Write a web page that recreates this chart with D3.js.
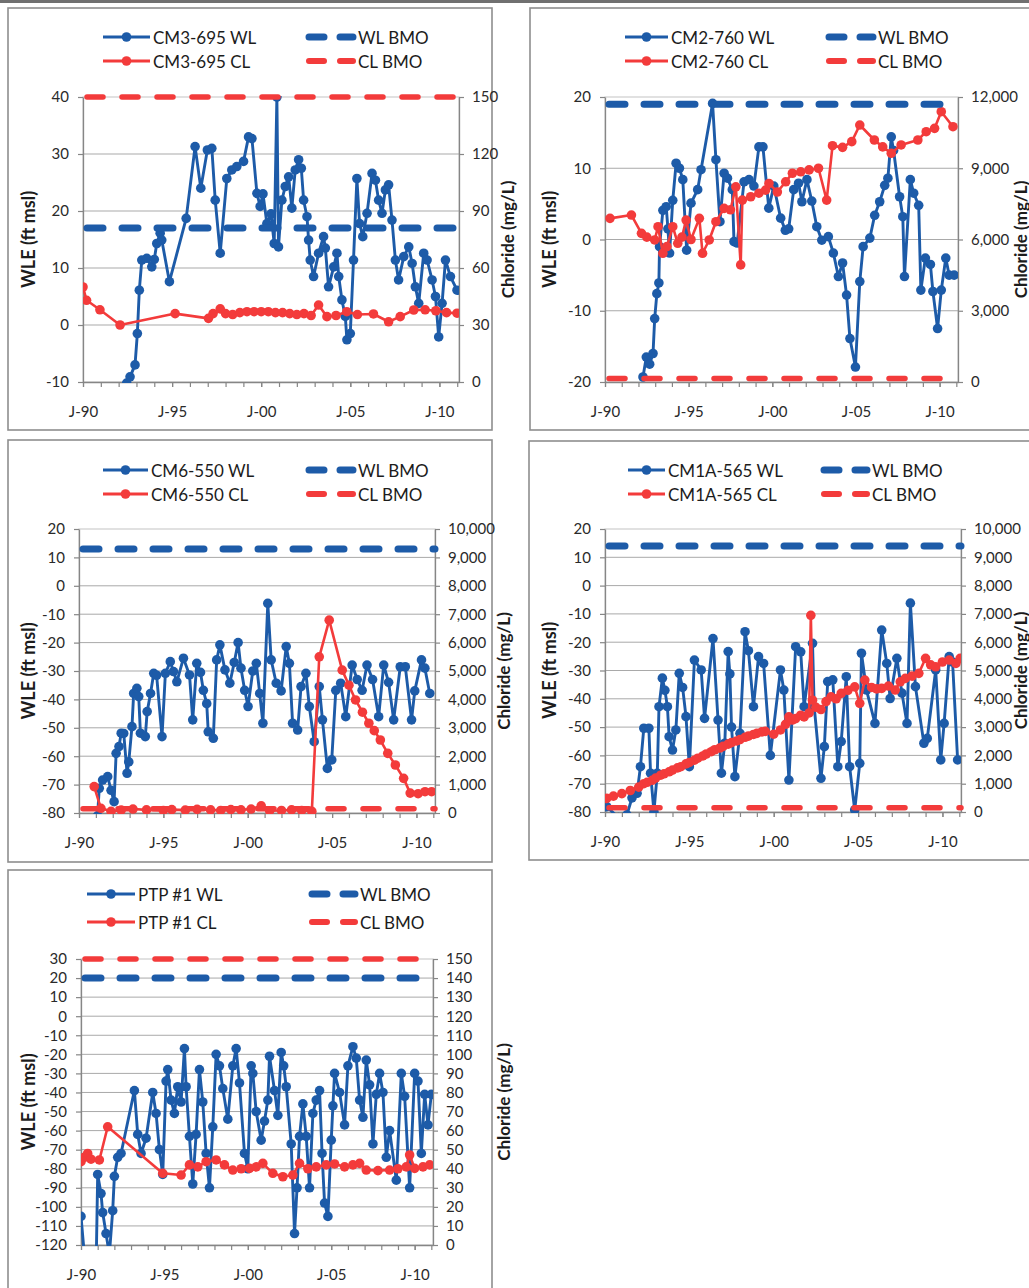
<!DOCTYPE html>
<html>
<head>
<meta charset="utf-8">
<script src="https://cdn.jsdelivr.net/npm/d3@7"></script>
<style>
  html, body { margin: 0; padding: 0; background: #fff; }
  svg { display: block; }
  text { font-family: Lato, "Open Sans", sans-serif; }
</style>
</head>
<body>
<svg id="chart" width="1029" height="1288"></svg>
<script>
// ---- Shared axis data ----
const xDomain = [1990, 2011.1];
const xTickYears = [1990, 1995, 2000, 2005, 2010];
const xTickLabels = ["J-90", "J-95", "J-00", "J-05", "J-10"];
const xMinorYears = d3.range(1990, 2012, 1);

// ---- Wells ----
const wellNames = ["CM3-695", "CM2-760", "CM6-550", "CM1A-565", "PTP #1"];
const wlBmo = [17, 19, 13, 14, 20];
const clBmo = [150, 150, 150, 150, 150];
const wleDomains = [[-10, 40], [-20, 20], [-80, 20], [-80, 20], [-120, 30]];
const chlorideDomains = [[0, 150], [0, 12000], [0, 10000], [0, 10000], [0, 150]];
const chlorideSteps = [30, 3000, 1000, 1000, 10];

// ---- Water level (ft msl) and chloride (mg/L) series: [decimal year, value] ----
const cm3_695_wl = [[1992.45,-10.2],[1992.64,-9.1],[1992.92,-7.0],[1993.05,-1.5],[1993.16,6.1],[1993.3,11.4],[1993.58,11.7],[1993.86,10.2],[1994.0,11.5],[1994.14,14.3],[1994.33,16.1],[1994.42,14.9],[1994.85,7.6],[1995.79,18.7],[1996.29,31.3],[1996.61,24.0],[1996.98,30.7],[1997.23,31.0],[1997.42,21.9],[1997.7,12.6],[1998.07,25.7],[1998.35,27.2],[1998.63,27.8],[1999.01,28.7],[1999.29,33.0],[1999.48,32.7],[1999.76,23.1],[1999.94,20.8],[2000.1,23.0],[2000.32,17.8],[2000.55,19.5],[2000.73,14.3],[2000.88,40],[2000.97,13.7],[2001.16,21.9],[2001.35,24.3],[2001.54,26.0],[2001.72,20.5],[2001.91,27.2],[2002.1,29.0],[2002.25,27.5],[2002.38,21.9],[2002.57,19.0],[2002.66,14.9],[2002.75,11.4],[2002.94,8.5],[2003.22,12.6],[2003.5,15.5],[2003.6,13.5],[2003.78,6.7],[2004.07,10.2],[2004.25,12.6],[2004.35,8.5],[2004.53,4.4],[2004.72,1.5],[2004.81,-2.6],[2005.0,-1.5],[2005.18,11.4],[2005.37,25.7],[2005.52,17.8],[2005.7,15.5],[2005.94,19.6],[2006.22,26.6],[2006.41,25.4],[2006.59,21.9],[2006.78,19.6],[2006.97,23.7],[2007.15,24.6],[2007.34,18.4],[2007.53,11.4],[2007.71,7.9],[2008.0,12.0],[2008.28,13.7],[2008.47,10.8],[2008.65,6.7],[2008.84,3.8],[2009.12,12.6],[2009.31,11.4],[2009.59,7.9],[2009.78,5.0],[2009.96,-2.1],[2010.15,3.8],[2010.34,11.4],[2010.62,8.5],[2010.99,6.1]];
const cm3_695_cl = [[1990.0,50],[1990.2,43],[1990.95,38],[1992.08,30],[1995.17,36],[1997.04,33.5],[1997.3,36],[1997.7,38.5],[1998.0,36],[1998.4,35.5],[1998.8,36.5],[1999.2,37],[1999.6,37],[2000.0,37],[2000.4,37],[2000.8,36.5],[2001.2,36.5],[2001.6,36],[2002.0,35.5],[2002.4,36],[2002.8,35],[2003.22,40.5],[2003.69,34.4],[2004.2,35],[2004.8,37],[2005.4,35.5],[2006.3,35.8],[2007.15,31.7],[2007.8,34.4],[2008.56,37.9],[2009.2,38],[2009.8,37.5],[2010.4,36.5],[2010.99,36.2]];

const cm2_760_wl = [[1992.27,-19.3],[1992.47,-16.5],[1992.67,-17.5],[1992.87,-16.0],[1992.97,-11.1],[1993.1,-7.6],[1993.22,-6.1],[1993.26,-1.0],[1993.46,4.1],[1993.66,4.6],[1993.76,1.5],[1993.86,-1.9],[1994.05,5.5],[1994.25,10.7],[1994.45,10.0],[1994.65,8.4],[1994.88,-1.5],[1995.14,5.1],[1995.54,7.0],[1995.74,9.8],[1996.43,19.1],[1996.63,11.2],[1996.87,2.5],[1997.12,9.3],[1997.32,8.6],[1997.61,7.0],[1997.71,-0.3],[1997.9,-0.5],[1998.31,8.1],[1998.61,8.4],[1998.9,7.5],[1999.2,13.0],[1999.44,13.0],[1999.79,4.4],[2000.09,7.5],[2000.5,3.0],[2000.78,1.3],[2000.98,1.5],[2001.28,7.0],[2001.57,7.9],[2001.77,5.3],[2002.07,8.4],[2002.36,5.4],[2002.66,1.8],[2002.96,-0.1],[2003.35,0.4],[2003.65,-1.9],[2003.95,-5.2],[2004.2,-3.3],[2004.44,-7.8],[2004.64,-13.9],[2004.97,-17.9],[2005.23,-5.9],[2005.43,-1.0],[2005.83,0.2],[2006.12,3.4],[2006.42,5.3],[2006.72,7.6],[2006.91,8.6],[2007.11,14.4],[2007.25,12.5],[2007.61,6.0],[2007.8,3.2],[2007.9,-5.2],[2008.25,8.4],[2008.45,6.5],[2008.75,4.8],[2008.88,-7.1],[2009.15,-2.6],[2009.45,-3.5],[2009.6,-7.3],[2009.88,-12.5],[2010.1,-7.1],[2010.37,-2.6],[2010.57,-5.0],[2010.87,-5.0]];
const cm2_760_cl = [[1990.3,6890],[1991.58,7030],[1992.18,6260],[1992.5,6100],[1992.97,5980],[1993.17,6540],[1993.46,5420],[1993.7,5700],[1994.05,6540],[1994.35,5840],[1994.6,6100],[1994.85,6820],[1995.14,6000],[1995.64,6890],[1995.83,5420],[1996.23,5980],[1996.63,6750],[1997.12,7310],[1997.5,7250],[1997.82,8220],[1998.11,4930],[1998.21,7660],[1998.71,7800],[1999.2,7950],[1999.6,8080],[1999.8,8360],[2000.3,8000],[2000.8,8430],[2001.2,8790],[2001.7,8850],[2002.2,8930],[2002.76,9000],[2003.25,7660],[2003.6,9950],[2004.2,9880],[2004.75,10120],[2005.23,10820],[2006.1,10190],[2006.6,9900],[2007.11,9630],[2007.7,9980],[2008.7,10190],[2009.2,10540],[2009.7,10680],[2010.1,11380],[2010.8,10750]];

const cm6_550_wl = [[1991.1,-81],[1991.2,-71.3],[1991.4,-68.4],[1991.7,-67.2],[1991.9,-72],[1992.08,-76.0],[1992.2,-59.0],[1992.37,-56.6],[1992.5,-51.9],[1992.65,-52],[1992.85,-66.0],[1992.95,-62],[1993.14,-49.6],[1993.24,-37.9],[1993.43,-36.1],[1993.54,-39],[1993.64,-51.9],[1993.93,-53.1],[1994.04,-44.3],[1994.24,-37.9],[1994.43,-30.8],[1994.6,-31.5],[1994.92,-53.1],[1995.12,-30.8],[1995.41,-26.7],[1995.6,-30.2],[1995.8,-33.8],[1996.19,-25.5],[1996.55,-31.4],[1996.74,-47.2],[1996.98,-27.3],[1997.2,-30.5],[1997.37,-36.8],[1997.57,-41.5],[1997.66,-51.4],[1997.96,-53.7],[1998.16,-26.1],[1998.35,-20.8],[1998.65,-29.6],[1998.94,-34.3],[1999.2,-27],[1999.43,-20.0],[1999.6,-29],[1999.82,-36.8],[2000.02,-42.5],[2000.3,-30],[2000.51,-27.3],[2000.71,-37.9],[2000.9,-48.4],[2001.19,-6.2],[2001.39,-26.1],[2001.69,-34.3],[2001.98,-37],[2002.28,-21.4],[2002.47,-27.3],[2002.66,-48.4],[2002.96,-50.8],[2003.16,-35.5],[2003.45,-30.8],[2003.65,-42.5],[2003.94,-54.9],[2004.24,-35.5],[2004.43,-47.2],[2004.72,-64.3],[2004.98,-61.3],[2005.22,-36.8],[2005.51,-34.3],[2005.81,-46.1],[2006.19,-27.9],[2006.49,-33],[2006.78,-36.8],[2007.07,-27.9],[2007.4,-33],[2007.76,-46.1],[2008.06,-27.9],[2008.35,-34],[2008.65,-47.2],[2009.04,-28.5],[2009.34,-28.5],[2009.71,-47.2],[2009.9,-37],[2010.3,-26.1],[2010.5,-29],[2010.79,-37.9]];
const cm6_550_cl = [[1990.9,930],[1991.3,165],[1991.9,60],[1992.5,100],[1993.2,140],[1994.0,110],[1995.0,90],[1995.5,120],[1996.3,100],[1997.0,130],[1997.8,110],[1998.4,90],[1999.0,120],[1999.6,110],[2000.2,140],[2000.8,250],[2001.3,80],[2002.0,90],[2002.6,110],[2003.2,90],[2003.8,60],[2004.24,5500],[2004.83,6790],[2005.6,5030],[2006.0,4500],[2006.39,3980],[2006.8,3550],[2007.18,3160],[2007.5,2900],[2007.86,2570],[2008.3,2100],[2008.75,1690],[2009.24,1220],[2009.63,700],[2010.1,680],[2010.51,750],[2010.9,750]];

const cm1a_565_wl = [[1990.1,-78.1],[1990.8,-82],[1991.3,-81],[1991.6,-75],[1991.9,-73.4],[1992.1,-64],[1992.3,-50.4],[1992.6,-50.4],[1992.7,-66.3],[1992.9,-79.9],[1993.1,-66.3],[1993.2,-42.8],[1993.4,-32.7],[1993.55,-37],[1993.7,-42.8],[1993.8,-53.4],[1994.0,-58.1],[1994.2,-51.0],[1994.4,-31],[1994.6,-36],[1994.8,-46.3],[1995.0,-64],[1995.3,-26.3],[1995.7,-29.8],[1995.9,-46.9],[1996.4,-18.7],[1996.7,-47.5],[1996.9,-66.3],[1997.1,-55.7],[1997.3,-23.3],[1997.4,-31.2],[1997.5,-50],[1997.7,-67.5],[1998.0,-52.2],[1998.3,-16.3],[1998.5,-23],[1998.8,-42.8],[1999.1,-25.1],[1999.4,-27.5],[1999.8,-60],[2000.4,-29.8],[2000.6,-36.9],[2000.9,-68.7],[2001.3,-21.6],[2001.6,-23.4],[2001.8,-42.8],[2002.3,-20.4],[2002.4,-42.8],[2002.8,-68.1],[2003.0,-56.9],[2003.2,-33.9],[2003.5,-33.3],[2003.8,-64],[2004.0,-55.1],[2004.3,-32.2],[2004.5,-64],[2004.8,-79.3],[2005.1,-62.8],[2005.2,-23.9],[2005.5,-36.9],[2006.0,-48.7],[2006.4,-15.7],[2006.7,-27.5],[2006.9,-39.9],[2007.3,-25.7],[2007.6,-38],[2007.9,-48.7],[2008.1,-6.2],[2008.4,-35.7],[2008.9,-55.7],[2009.1,-54],[2009.6,-29.8],[2009.9,-61.6],[2010.1,-48.7],[2010.4,-25.1],[2010.6,-27],[2010.9,-61.6]];
const cm1a_565_cl = [[1990.1,480],[1990.5,560],[1991.0,650],[1991.5,760],[1992.0,880],[1992.3,1000],[1992.5,1050],[1992.8,1120],[1993.0,1200],[1993.3,1300],[1993.5,1350],[1993.8,1420],[1994.0,1480],[1994.3,1560],[1994.5,1600],[1994.8,1700],[1995.0,1750],[1995.3,1830],[1995.5,1900],[1995.8,1980],[1996.0,2050],[1996.3,2130],[1996.5,2200],[1996.8,2260],[1997.0,2320],[1997.3,2400],[1997.5,2450],[1997.8,2510],[1998.0,2560],[1998.3,2640],[1998.5,2680],[1998.8,2740],[1999.0,2780],[1999.3,2830],[1999.5,2850],[2000.0,2750],[2000.4,2900],[2000.7,3100],[2000.9,3360],[2001.1,3250],[2001.3,3300],[2001.6,3420],[2001.8,3360],[2002.1,3500],[2002.2,6950],[2002.3,3950],[2002.5,3700],[2002.8,3620],[2003.1,3900],[2003.4,4070],[2003.7,4000],[2004.0,4190],[2004.4,4300],[2004.8,4420],[2005.1,3840],[2005.4,4660],[2005.8,4400],[2006.1,4350],[2006.4,4370],[2006.8,4450],[2007.2,4310],[2007.5,4600],[2007.8,4720],[2008.2,4800],[2008.6,4900],[2009.0,5430],[2009.3,5200],[2009.6,5130],[2010.0,5300],[2010.4,5370],[2010.8,5250],[2011.05,5430]];

const ptp1_wl = [[1990.0,-105],[1990.3,-135],[1990.9,-135],[1991.0,-83],[1991.2,-93],[1991.3,-103],[1991.5,-114],[1991.7,-125],[1991.9,-102],[1992.0,-84],[1992.2,-74],[1992.4,-72],[1993.2,-39],[1993.4,-62],[1993.6,-72],[1993.9,-64],[1994.3,-40],[1994.5,-51],[1994.7,-70],[1994.9,-83],[1995.1,-34],[1995.2,-28],[1995.4,-44],[1995.6,-51],[1995.8,-37],[1996.0,-45],[1996.2,-17],[1996.3,-37],[1996.5,-63],[1996.7,-88],[1996.9,-62],[1997.1,-28],[1997.3,-45],[1997.5,-72],[1997.7,-90],[1997.9,-58],[1998.1,-20],[1998.3,-26],[1998.5,-38],[1998.8,-54],[1999.1,-26],[1999.3,-17],[1999.5,-35],[1999.8,-72],[2000.0,-80],[2000.2,-26],[2000.3,-30],[2000.5,-50],[2000.8,-65],[2001.0,-55],[2001.2,-44],[2001.3,-21],[2001.6,-39],[2001.8,-52],[2002.0,-19],[2002.15,-26],[2002.3,-37],[2002.6,-67],[2002.8,-114],[2002.95,-90],[2003.1,-63],[2003.3,-46],[2003.5,-63],[2003.7,-90],[2003.9,-51],[2004.1,-44],[2004.3,-39],[2004.45,-72],[2004.6,-98],[2004.8,-105],[2005.0,-65],[2005.1,-47],[2005.2,-30],[2005.5,-40],[2005.8,-57],[2006.0,-26],[2006.3,-16],[2006.5,-22],[2006.7,-44],[2006.9,-53],[2007.1,-23],[2007.3,-36],[2007.5,-67],[2007.7,-41],[2007.9,-30],[2008.1,-40],[2008.3,-74],[2008.5,-60],[2008.9,-86],[2009.2,-30],[2009.4,-42],[2009.7,-90],[2010.0,-30],[2010.2,-34],[2010.4,-72],[2010.6,-41],[2010.8,-57],[2011.0,-41]];
const ptp1_cl = [[1990.0,43.7],[1990.2,46],[1990.4,48],[1990.6,45],[1991.1,44.6],[1991.6,62],[1994.9,37.6],[1996.0,36.7],[1996.5,42],[1997.0,41],[1997.5,43.7],[1998.1,44.6],[1998.6,42],[1999.1,39.3],[1999.6,40],[2000.1,40.2],[2000.5,41],[2000.9,42.8],[2001.5,37.6],[2002.1,35.8],[2002.7,36.7],[2003.1,42.8],[2003.6,40],[2004.1,41],[2004.7,42],[2005.2,42.5],[2005.8,41],[2006.3,42],[2006.7,42.8],[2007.1,39.3],[2007.8,39],[2008.5,39.3],[2009.0,40],[2009.5,41],[2009.7,47.2],[2010.0,40.2],[2010.5,41],[2010.9,42]];

const wlSeries = [cm3_695_wl, cm2_760_wl, cm6_550_wl, cm1a_565_wl, ptp1_wl];
const clSeries = [cm3_695_cl, cm2_760_cl, cm6_550_cl, cm1a_565_cl, ptp1_cl];

// ---- Page layout (pixel boxes for each panel) ----
const layout = [
  { frame: [8, 8, 484, 422],   left: 83,  right: 459, top: 97,  bottom: 382,
    legend: { x0: 103, x1: 150, bx0: 305, bx1: 356, y1: 37, y2: 61 },   titleLX: 28,  titleRX: 507 },
  { frame: [530, 8, 510, 422], left: 605, right: 958, top: 97,  bottom: 382,
    legend: { x0: 625, x1: 668, bx0: 825, bx1: 876, y1: 37, y2: 61 },   titleLX: 549, titleRX: 1020 },
  { frame: [8, 440, 484, 422], left: 79,  right: 435, top: 529, bottom: 813,
    legend: { x0: 103, x1: 148, bx0: 305, bx1: 356, y1: 470, y2: 494 }, titleLX: 28,  titleRX: 503 },
  { frame: [529, 441, 511, 419], left: 605, right: 961, top: 529, bottom: 812,
    legend: { x0: 628, x1: 665, bx0: 820, bx1: 870, y1: 470, y2: 494 }, titleLX: 549, titleRX: 1020 },
  { frame: [8, 870, 484, 430], left: 81,  right: 433, top: 959, bottom: 1245,
    legend: { x0: 87, x1: 135, bx0: 308, bx1: 358, y1: 894, y2: 922 },  titleLX: 28,  titleRX: 503 }
];

const BLUE = "#1d5ba8";
const RED = "#f33b3b";
const AXIS = "#868686";
const GRID = "#a9a9a9";
const TEXT = "#1c1c1c";
const MARKER_R = 4.8;

const svg = d3.select("#chart");
const defs = svg.append("defs");

// dark scan edge along the top of the sheet
svg.append("rect").attr("x", 0).attr("y", 0).attr("width", 1029).attr("height", 3).attr("fill", "#707070");

wellNames.forEach((name, i) => drawPanel(i, layout[i]));

function styleAxis(sel, size) {
  sel.attr("font-family", "Lato, 'Open Sans', sans-serif").attr("font-size", size);
  sel.selectAll("path").attr("stroke", AXIS).attr("stroke-width", 1.3);
  sel.selectAll("line").attr("stroke", AXIS).attr("stroke-width", 1.2);
  sel.selectAll("text").attr("fill", "#2a2a2a");
}

function drawPanel(i, L) {
  const g = svg.append("g");
  const name = wellNames[i];

  // panel frame
  g.append("rect")
    .attr("x", L.frame[0]).attr("y", L.frame[1])
    .attr("width", L.frame[2]).attr("height", L.frame[3])
    .attr("fill", "none").attr("stroke", "#8e8e8e").attr("stroke-width", 1.6);

  const x = d3.scaleLinear().domain(xDomain).range([L.left, L.right]);
  const yL = d3.scaleLinear().domain(wleDomains[i]).range([L.bottom, L.top]);
  const yR = d3.scaleLinear().domain(chlorideDomains[i]).range([L.bottom, L.top]);

  const wleTicks = d3.range(wleDomains[i][0], wleDomains[i][1] + 0.001, 10);
  const clTicks = d3.range(chlorideDomains[i][0], chlorideDomains[i][1] + 0.001, chlorideSteps[i]);

  // plot area outline
  g.append("rect")
    .attr("x", L.left).attr("y", L.top)
    .attr("width", L.right - L.left).attr("height", L.bottom - L.top)
    .attr("fill", "none").attr("stroke", "#c4c4c4").attr("stroke-width", 1);

  // horizontal gridlines
  g.append("g").selectAll("line")
    .data(wleTicks.filter(v => v > wleDomains[i][0] && v < wleDomains[i][1]))
    .join("line")
    .attr("x1", L.left).attr("x2", L.right)
    .attr("y1", d => yL(d)).attr("y2", d => yL(d))
    .attr("stroke", GRID).attr("stroke-width", 1);

  // left axis (water level elevation)
  const axL = g.append("g").attr("transform", `translate(${L.left},0)`)
    .call(d3.axisLeft(yL).tickValues(wleTicks).tickFormat(d => String(d))
      .tickSize(5).tickSizeOuter(0).tickPadding(9));
  styleAxis(axL, 15);

  // right axis (chloride)
  const axR = g.append("g").attr("transform", `translate(${L.right},0)`)
    .call(d3.axisRight(yR).tickValues(clTicks).tickFormat(d3.format(","))
      .tickSize(5).tickSizeOuter(0).tickPadding(8));
  styleAxis(axR, 15);

  // bottom axis: yearly minor ticks and labelled five-year ticks
  const axMinor = g.append("g").attr("transform", `translate(0,${L.bottom})`)
    .call(d3.axisBottom(x).tickValues(xMinorYears).tickFormat("").tickSize(5).tickSizeOuter(0));
  styleAxis(axMinor, 15);
  const axB = g.append("g").attr("transform", `translate(0,${L.bottom})`)
    .call(d3.axisBottom(x).tickValues(xTickYears).tickFormat((d, k) => xTickLabels[k])
      .tickSize(5).tickSizeOuter(0).tickPadding(19));
  styleAxis(axB, 15);
  axB.select("path").remove();

  // axis titles
  g.append("text")
    .attr("transform", `translate(${L.titleLX},${(L.top + L.bottom) / 2}) rotate(-90)`)
    .attr("text-anchor", "middle").attr("dominant-baseline", "central")
    .attr("font-size", 18).attr("font-weight", "bold").attr("fill", TEXT)
    .text("WLE (ft msl)");
  g.append("text")
    .attr("transform", `translate(${L.titleRX},${(L.top + L.bottom) / 2}) rotate(-90)`)
    .attr("text-anchor", "middle").attr("dominant-baseline", "central")
    .attr("font-size", 17).attr("font-weight", "bold").attr("fill", TEXT)
    .text("Chloride (mg/L)");

  // clip region for data series
  const clipId = `plot-clip-${i}`;
  defs.append("clipPath").attr("id", clipId).append("rect")
    .attr("x", L.left).attr("y", L.top - 1)
    .attr("width", L.right - L.left).attr("height", L.bottom - L.top + 2);

  const data = g.append("g").attr("clip-path", `url(#${clipId})`);

  const wlLine = d3.line().x(d => x(d[0])).y(d => yL(d[1]));
  const clLine = d3.line().x(d => x(d[0])).y(d => yR(d[1]));

  // water level series
  data.append("path").datum(wlSeries[i])
    .attr("d", wlLine).attr("fill", "none")
    .attr("stroke", BLUE).attr("stroke-width", 2.9).attr("stroke-linejoin", "round");
  data.append("g").selectAll("circle").data(wlSeries[i]).join("circle")
    .attr("cx", d => x(d[0])).attr("cy", d => yL(d[1])).attr("r", MARKER_R)
    .attr("fill", BLUE);

  // chloride series
  data.append("path").datum(clSeries[i])
    .attr("d", clLine).attr("fill", "none")
    .attr("stroke", RED).attr("stroke-width", 2.6).attr("stroke-linejoin", "round");
  data.append("g").selectAll("circle").data(clSeries[i]).join("circle")
    .attr("cx", d => x(d[0])).attr("cy", d => yR(d[1])).attr("r", MARKER_R)
    .attr("fill", RED);

  // BMO reference lines
  g.append("line")
    .attr("x1", L.left + 4).attr("x2", L.right)
    .attr("y1", yL(wlBmo[i])).attr("y2", yL(wlBmo[i]))
    .attr("stroke", BLUE).attr("stroke-width", 7)
    .attr("stroke-dasharray", "16 19").attr("stroke-linecap", "round");
  g.append("line")
    .attr("x1", L.left + 4).attr("x2", L.right)
    .attr("y1", yR(clBmo[i])).attr("y2", yR(clBmo[i]))
    .attr("stroke", RED).attr("stroke-width", 5.5)
    .attr("stroke-dasharray", "16 19").attr("stroke-linecap", "round");

  // legend
  const lg = g.append("g");
  const lgRows = [
    { label: `${name} WL`, color: BLUE, y: L.legend.y1 },
    { label: `${name} CL`, color: RED, y: L.legend.y2 }
  ];
  lgRows.forEach(r => {
    lg.append("line").attr("x1", L.legend.x0).attr("x2", L.legend.x1)
      .attr("y1", r.y).attr("y2", r.y).attr("stroke", r.color).attr("stroke-width", 2.8);
    lg.append("circle").attr("cx", (L.legend.x0 + L.legend.x1) / 2).attr("cy", r.y)
      .attr("r", MARKER_R).attr("fill", r.color);
    lg.append("text").attr("x", L.legend.x1 + 3).attr("y", r.y)
      .attr("dominant-baseline", "central").attr("font-size", 17).attr("fill", TEXT)
      .text(r.label);
  });
  const bmoRows = [
    { label: "WL BMO", color: BLUE, y: L.legend.y1, w: 7 },
    { label: "CL BMO", color: RED, y: L.legend.y2, w: 6 }
  ];
  bmoRows.forEach(r => {
    lg.append("line").attr("x1", L.legend.bx0 + 4).attr("x2", L.legend.bx1 - 3)
      .attr("y1", r.y).attr("y2", r.y).attr("stroke", r.color).attr("stroke-width", r.w)
      .attr("stroke-dasharray", "15 16").attr("stroke-linecap", "round");
    lg.append("text").attr("x", L.legend.bx1 + 2).attr("y", r.y)
      .attr("dominant-baseline", "central").attr("font-size", 17).attr("fill", TEXT)
      .text(r.label);
  });
}
</script>
</body>
</html>
